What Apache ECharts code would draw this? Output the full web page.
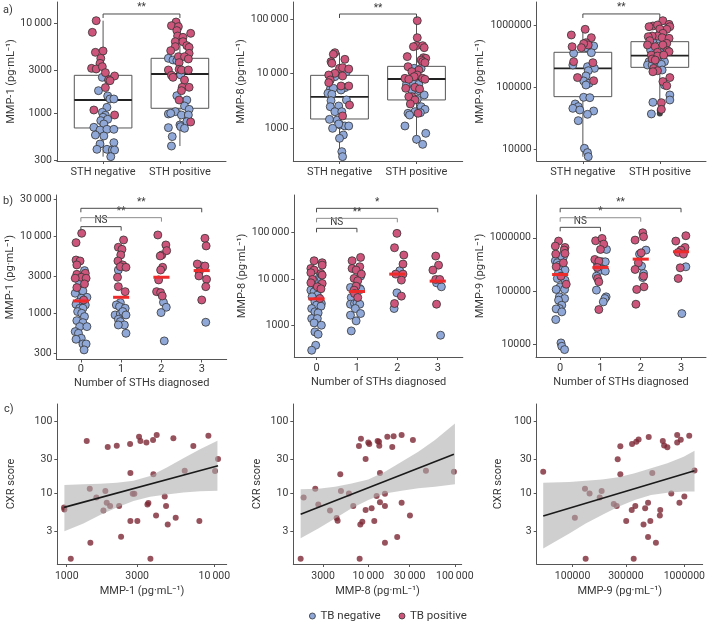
<!DOCTYPE html>
<html><head><meta charset="utf-8">
<script src="https://cdn.jsdelivr.net/npm/echarts@6/dist/echarts.min.js"></script>
<style>html,body{margin:0;padding:0;background:#fff}#c{width:708px;height:623px}</style>
</head><body><div id="c"></div>
<script>
// ---------------- DATA ----------------
// Panel a: MMP concentration (pg/mL) by STH status; pairs are [value, TB status (0 = negative, 1 = positive)]
const sthStatus = ['STH negative', 'STH positive'];
const mmp1SthNeg = [[10700,1],[7940,1],[4760,1],[4930,1],[4085,1],[3590,1],[3160,1],[3110,1],[3300,1],[2830,1],[2600,1],[2510,0],[2345,1],[2305,1],[1785,0],[1930,1],[1560,0],[1443,0],[1443,0],[1088,1],[1166,0],[1026,0],[950,0],[958,1],[903,0],[829,0],[858,0],[761,0],[699,0],[653,0],[664,0],[664,0],[574,0],[560,0],[456,0],[472,0],[398,0],[398,0],[391,0],[391,0],[330,0]];
const mmp1SthPos = [[10340,1],[9420,1],[9180,1],[8300,1],[7740,1],[7230,1],[6990,1],[6250,1],[6250,1],[5650,1],[5410,1],[5510,1],[4640,1],[4970,1],[4260,1],[4085,0],[3920,0],[3850,0],[4260,1],[3660,1],[4020,1],[3030,1],[3085,1],[3030,1],[3030,1],[2670,0],[2645,1],[2510,1],[2345,1],[1945,1],[1945,1],[1785,1],[1570,0],[1406,1],[1406,0],[1206,0],[1107,0],[1044,0],[984,0],[1000,0],[958,0],[958,0],[808,0],[742,0],[801,1],[693,0],[711,0],[681,0],[551,0],[433,0]];
const mmp8SthNeg = [[24100,1],[22500,1],[18200,1],[16500,1],[15400,1],[12440,1],[12800,1],[12100,1],[10810,0],[10080,1],[9380,1],[8750,0],[7600,1],[9000,1],[6790,1],[5900,1],[5900,1],[5500,0],[5120,0],[5350,0],[4330,0],[4980,0],[4150,0],[3270,0],[3180,0],[2460,0],[2640,1],[2530,0],[1990,0],[1990,0],[1440,0],[1660,1],[1400,0],[1135,0],[1088,0],[1088,0],[1185,0],[986,0],[744,0],[646,0],[368,0],[298,0]];
const mmp8SthPos = [[93200,1],[45400,1],[32400,1],[31100,1],[32400,1],[29800,1],[20400,1],[19500,1],[19000,1],[17700,1],[16500,1],[15800,1],[13340,1],[12440,0],[12440,0],[11600,1],[10810,1],[9380,1],[8150,1],[8150,1],[8750,1],[7820,1],[7820,1],[6330,0],[6600,0],[6330,0],[5350,1],[5580,1],[4840,0],[4840,0],[5200,1],[3760,1],[4040,0],[3760,1],[3270,1],[3360,0],[2760,1],[2460,0],[2200,0],[1990,0],[1860,0],[1730,0],[1860,1],[1910,0],[1088,0],[798,0],[620,0],[501,0]];
const mmp9SthNeg = [[873000,1],[706000,1],[456000,1],[639000,1],[530000,1],[486000,1],[468000,0],[511000,1],[440000,0],[440000,1],[356000,0],[365000,0],[261000,1],[230000,0],[251000,1],[216000,0],[203000,0],[186000,0],[144000,1],[153000,0],[127000,0],[128000,1],[116000,0],[109000,0],[68900,0],[68000,0],[53700,0],[48600,0],[45600,0],[42900,0],[41300,0],[36500,0],[28800,0],[10250,0],[8730,0],[7510,0]];
const mmp9SthPos = [[1205000,1],[988000,1],[963000,1],[1025000,1],[1051000,1],[963000,1],[873000,1],[883000,1],[752000,1],[680000,1],[680000,1],[663000,1],[639000,1],[624000,1],[586000,0],[600000,0],[571000,1],[517000,1],[486000,1],[456000,1],[486000,1],[403000,0],[370000,1],[365000,0],[393000,1],[334000,0],[379000,1],[334000,1],[322000,1],[334000,1],[288000,1],[277000,1],[261000,0],[261000,0],[261000,0],[230000,0],[230000,0],[236000,0],[203000,1],[186000,1],[179000,1],[191000,0],[144000,1],[124000,1],[106000,1],[109000,0],[75200,0],[62300,0],[57100,0],[56400,1],[43900,1],[37000,0]];
const mmp9SthPosOutliers = [42500, 37500];
// box statistics [min, Q1, median, Q3, max]
const mmp1Boxes = [[330,687,1406,2643,10700],[433,1137,2735,4085,10340]];
const mmp8Boxes = [[298,1462,3710,9250,24100],[508,3270,7920,13520,93200]];
const mmp9Boxes = [[7510,70600,203000,370000,873000],[57100,211000,326000,550000,1205000]];
const sigA = ['**'];

// Panel b: by number of STHs diagnosed
const sthCounts = ['0', '1', '2', '3'];
const mmp1Sth0 = [[10830,1],[8200,1],[4890,1],[4750,1],[4220,1],[3565,0],[3290,1],[3190,1],[2925,1],[2840,1],[2840,1],[2490,0],[2395,1],[2150,1],[1905,0],[1815,0],[1945,0],[1610,0],[1563,0],[1387,0],[1486,1],[1306,0],[1282,0],[1161,0],[1161,0],[1052,0],[1000,0],[906,0],[803,0],[757,0],[672,0],[672,0],[579,0],[551,0],[475,0],[461,0],[401,0],[401,0],[336,0]];
const mmp1Sth1 = [[8880,1],[7140,1],[6720,1],[5680,1],[4750,1],[4220,1],[4010,1],[3930,1],[3630,0],[2925,1],[2210,1],[1905,1],[1373,0],[1282,0],[1219,0],[1161,0],[951,0],[980,0],[1052,0],[951,0],[836,0],[780,0],[706,0],[706,0],[551,0]];
const mmp1Sth2 = [[10300,1],[7650,1],[5680,1],[5510,1],[6460,1],[3930,1],[3630,1],[2700,1],[1905,1],[1850,1],[1675,1],[1387,0],[1196,0],[1021,0],[439,0]];
const mmp1Sth3 = [[9330,1],[7430,1],[4340,1],[4090,0],[4090,1],[3460,1],[3040,1],[2750,1],[2210,1],[1486,1],[765,0]];
const mmp1Medians = [1443, 1610, 2925, 3565];
const mmp8Sth0 = [[24600,1],[22300,1],[19800,1],[16800,1],[15500,1],[13100,1],[13600,1],[12100,1],[9760,1],[10800,0],[9140,0],[8990,0],[8000,1],[8270,1],[6790,1],[5750,0],[5750,0],[6150,1],[5300,0],[4490,0],[4140,0],[3810,1],[3230,0],[2970,0],[2740,0],[2600,0],[2320,0],[1970,0],[1870,0],[1415,0],[1415,0],[1140,0],[1016,0],[731,0],[651,0],[378,0],[295,0]];
const mmp8Sth1 = [[29000,1],[24600,1],[18300,1],[16800,1],[15500,1],[12700,1],[11500,0],[10250,1],[9140,1],[6570,0],[7010,1],[6250,0],[5750,1],[5950,0],[4880,1],[4000,0],[4000,1],[2870,0],[2970,0],[3070,0],[2870,0],[2320,0],[1810,0],[1670,0],[1260,0],[767,0]];
const mmp8Sth2 = [[95200,1],[46800,1],[32600,1],[20900,1],[15000,0],[12700,1],[12700,1],[9440,1],[5040,0],[4280,1],[2970,1],[2320,0]];
const mmp8Sth3 = [[31000,1],[19800,1],[15500,1],[9760,1],[9760,1],[8270,0],[6790,0],[2870,1],[620,0]];
const mmp8Medians = [3740, 5380, 12700, 8980];
const mmp9Sth0 = [[866000,1],[697000,1],[658000,1],[587000,1],[493000,1],[439000,0],[508000,1],[439000,0],[369000,0],[339000,0],[339000,1],[306000,0],[285000,1],[258000,0],[247000,0],[220000,0],[190000,1],[172000,0],[160000,0],[134000,1],[120000,0],[107000,0],[107000,0],[77700,0],[72300,0],[67300,0],[54200,0],[46900,0],[46200,0],[40600,0],[29100,0],[10600,0],[9160,0],[7940,0]];
const mmp9Sth1 = [[878000,1],[971000,1],[760000,1],[603000,1],[603000,0],[391000,1],[364000,1],[339000,0],[354000,0],[354000,0],[277000,1],[254000,0],[240000,0],[236000,0],[190000,0],[172000,1],[149000,1],[104000,0],[77700,0],[72300,0],[62500,0],[44900,1]];
const mmp9Sth2 = [[1242000,1],[904000,1],[1044000,1],[493000,0],[587000,0],[522000,1],[339000,1],[293000,0],[254000,1],[213000,0],[179000,0],[190000,1],[120000,1],[107000,1],[56500,1]];
const mmp9Sth3 = [[1091000,1],[866000,1],[658000,1],[587000,1],[530000,1],[493000,1],[273000,1],[285000,0],[172000,1],[37700,0]];
const mmp9Medians = [204000, 277000, 397000, 546000];
const sigB1 = ['NS', '**', '**'];
const sigB2 = ['NS', '**', '*'];
const sigB3 = ['NS', '*', '**'];

// Panel c: CXR score vs MMP (TB positive)
const cxrMmp1 = [[959,6.46],[964,6.05],[1065,1.25],[1366,53.8],[1432,11.7],[1446,2.08],[1588,8.89],[1772,5.87],[1827,10.9],[1866,7.5],[1896,44.5],[1967,6.74],[2183,46.4],[2264,6.74],[2335,2.53],[2687,49.0],[2700,19.4],[2700,4.17],[2800,10],[2872,10],[3010,4.17],[3090,61.9],[3157,53.8],[3467,51.6],[3523,7.11],[3575,7.41],[3690,1.25],[3846,55.6],[3866,18.6],[4030,5.0],[4070,65.3],[4613,9.18],[4710,6.74],[4834,3.75],[5280,58.7],[5476,4.64],[6300,20.8],[7210,45.9],[7920,4.17],[9120,63.9],[10120,20.6],[10600,30.3]];
const cxrMmp8 = [[1652,1.25],[1788,8.89],[2438,11.7],[2642,7.11],[3606,5.87],[4306,4.59],[4419,4.22],[4744,18.6],[4828,10.9],[5975,10.1],[6706,6.74],[7800,45.9],[8225,58.1],[8090,3.75],[8536,4.08],[7943,1.25],[9310,30.3],[9310,5.92],[10000,51.6],[10270,49.0],[10930,6.26],[11730,4.17],[12480,9.3],[12820,53.8],[13300,52.6],[13400,46.4],[13640,19.4],[13640,7.59],[15580,10],[15580,6.74],[15580,2.08],[16600,61.9],[18940,44.5],[19620,63],[21600,2.5],[24290,65.3],[24290,7.5],[30320,5.0],[32800,55.6],[46400,20.8],[97700,20.2]];
const cxrMmp9 = [[54600,20.2],[104800,4.64],[129100,11.7],[130900,1.25],[141900,10.1],[174900,8.89],[182000,10.9],[233500,7.19],[248200,6.74],[253300,30.0],[267400,45.5],[267400,18.6],[301900,4.17],[338300,5.92],[340500,49.0],[352300,1.25],[364100,6.74],[371600,52.6],[389700,56.8],[431300,3.75],[446000,6.3],[473400,2.5],[473400,7.5],[480000,61.1],[496300,4.17],[516600,19.4],[556700,2.08],[603700,5.0],[608500,5.92],[641600,53.8],[659200,46.8],[704800,44.1],[763900,10.1],[862900,65.3],[862900,51.6],[903600,7.5],[929000,56.3],[1000000,9.18],[1106000,63.9],[1233000,21.0]];
// fitted regression line end points and 95% confidence band
const fitMmp1 = [[959,6.46],[10600,24.4]];
const fitMmp8 = [[1652,5.18],[97700,35.3]];
const fitMmp9 = [[54600,4.9],[1233000,20.8]];
const bandMmp1X = [964,1297,1682,2183,2831,3673,4764,6170,8000,10500];
const bandMmp1Upper = [13.2,13.5,13.8,14.2,15.2,17.6,23.2,31.0,41.3,54.5];
const bandMmp1Lower = [3.0,3.87,5.06,6.46,7.91,9.09,9.79,10.4,10.8,11.0];
const bandMmp8X = [1652,2642,4121,6415,10000,15590,24290,37850,59000,100400];
const bandMmp8Upper = [11.5,11.7,12.5,13.9,15.8,20.2,27.8,38.3,55.6,94.8];
const bandMmp8Lower = [2.4,3.3,4.54,6.26,8.16,10.1,11.0,11.9,12.5,13.5];
const bandMmp9X = [54600,93500,131000,183300,256600,359500,503500,704800,986600,1233000];
const bandMmp9Upper = [14.2,14.5,15.2,15.8,16.9,19.2,22.5,26.4,32.6,39.6];
const bandMmp9Lower = [1.74,2.81,3.87,5.06,6.59,8.16,9.58,10.3,10.7,10.7];

// tick values
const ticksMmp1A = [300,1000,3000,10000];
const ticksMmp1B = [300,1000,3000,10000,30000];
const ticksMmp8 = [1000,10000,100000];
const ticksMmp9 = [10000,100000,1000000];
const ticksCxr = [3,10,30,100];
const ticksMmp1C = [1000,3000,10000];
const ticksMmp8C = [3000,10000,30000,100000];
const ticksMmp9C = [100000,300000,1000000];

// ---------------- LAYOUT (jitter offsets, bracket heights) ----------------
const jitA = {
  mmp1: [[-0.09,-0.14,-0.10,0.00,-0.03,-0.04,-0.15,-0.09,-0.01,0.03,0.15,-0.01,0.07,0.09,-0.06,0.03,0.06,0.09,0.14,-0.12,0.05,-0.01,0.03,0.15,0.00,-0.03,0.06,0.01,-0.12,-0.04,0.05,0.14,-0.10,0.01,-0.04,0.14,-0.08,0.05,0.12,0.15,0.10],
         [-0.05,-0.11,-0.02,-0.04,0.14,-0.03,0.04,-0.06,0.04,0.09,0.12,-0.06,0.12,-0.12,-0.02,-0.15,-0.09,-0.04,0.06,-0.01,0.11,-0.15,-0.01,0.02,0.11,0.01,-0.11,-0.09,0.06,0.03,0.12,0.02,-0.04,-0.01,0.09,0.06,0.12,-0.06,-0.15,-0.12,0.02,0.11,0.09,0.00,0.14,-0.15,0.01,0.06,-0.10,-0.11]],
  mmp8: [[-0.06,-0.08,0.07,-0.11,-0.10,0.00,0.04,0.12,0.09,-0.06,-0.14,-0.06,-0.12,0.04,-0.14,0.02,0.12,0.07,-0.12,-0.08,-0.15,0.02,-0.10,0.09,-0.11,-0.12,0.13,-0.01,-0.06,0.03,-0.13,0.04,-0.03,0.01,0.07,0.12,-0.01,-0.09,0.05,0.00,0.03,0.04],
         [0.01,0.01,0.00,-0.04,0.08,0.10,-0.12,0.09,0.12,0.06,0.08,0.11,-0.11,-0.03,0.06,0.03,-0.06,0.01,0.08,-0.15,-0.03,-0.10,0.11,-0.13,-0.04,0.03,-0.14,-0.02,-0.06,0.03,0.04,-0.06,0.10,-0.10,-0.02,0.01,-0.08,0.06,0.11,-0.02,-0.11,-0.09,0.02,0.05,-0.15,0.12,0.00,0.08]],
  mmp9: [[0.03,-0.15,-0.14,0.11,0.04,0.07,0.14,0.01,0.04,-0.02,-0.12,0.11,-0.12,-0.13,0.13,0.06,0.15,0.07,-0.07,0.04,0.01,0.14,0.08,0.04,0.01,0.09,-0.10,-0.06,-0.13,-0.04,0.14,0.06,-0.06,0.02,0.06,0.07],
         [0.04,-0.09,-0.14,-0.03,0.12,0.13,0.09,0.00,0.04,-0.03,-0.10,-0.15,0.03,0.12,-0.09,0.00,-0.13,0.09,-0.16,-0.06,0.04,-0.12,-0.03,0.01,0.10,0.03,0.12,-0.11,-0.03,0.05,-0.10,-0.06,0.00,0.06,-0.14,-0.16,-0.10,0.02,-0.08,-0.03,-0.09,0.03,0.13,0.04,0.09,0.06,0.13,0.13,-0.09,0.02,0.02,-0.11]]
};
const jitB = {
  mmp1: [[0.02,-0.12,-0.12,-0.02,-0.10,0.09,0.11,-0.10,0.01,0.13,-0.14,-0.03,0.09,-0.10,-0.02,-0.14,0.05,0.15,0.01,-0.06,0.07,-0.12,0.11,-0.03,0.05,-0.08,0.02,0.09,-0.10,0.05,-0.03,0.15,-0.14,-0.06,0.01,-0.12,0.05,0.13,0.08],
         [0.06,-0.07,0.02,-0.01,-0.08,0.04,-0.02,0.12,-0.07,-0.09,-0.07,0.10,-0.02,-0.12,-0.04,0.10,-0.15,-0.02,0.04,0.12,-0.07,-0.02,0.08,-0.07,0.12],
         [-0.09,0.11,0.01,-0.03,0.13,0.03,-0.02,-0.07,-0.12,-0.02,0.02,0.05,0.12,-0.01,0.07],
         [0.08,0.11,-0.11,0.00,0.08,-0.06,-0.07,0.12,0.10,0.00,0.10]],
  mmp8: [[-0.06,0.14,0.14,-0.14,-0.06,0.11,-0.14,0.14,-0.10,0.07,0.02,-0.06,0.14,-0.14,0.02,-0.14,-0.02,0.11,-0.06,0.02,-0.11,0.08,-0.04,0.12,0.00,0.11,-0.12,-0.04,0.04,-0.12,0.02,-0.06,0.12,-0.04,0.04,-0.02,-0.12],
         [0.09,-0.12,0.07,-0.12,-0.02,0.11,0.09,-0.07,0.02,-0.16,-0.02,0.07,-0.07,0.09,-0.06,-0.14,0.02,-0.16,-0.06,0.00,0.07,-0.04,0.09,-0.16,-0.02,-0.14],
         [-0.01,-0.07,0.16,0.14,0.06,-0.04,0.14,0.10,-0.01,0.10,-0.07,-0.08],
         [-0.05,0.02,-0.12,-0.05,0.05,-0.03,0.09,-0.03,0.07]],
  mmp9: [[-0.04,-0.12,0.12,0.10,-0.11,0.08,0.12,0.00,-0.12,-0.07,0.08,-0.02,-0.10,0.07,0.12,-0.04,0.02,-0.07,0.12,0.15,0.00,-0.10,0.11,-0.02,0.11,-0.04,0.04,-0.02,-0.10,0.04,-0.11,0.02,0.04,0.11],
         [-0.12,0.04,0.08,0.00,0.15,-0.14,-0.04,-0.08,0.04,0.12,-0.08,0.07,-0.04,0.12,-0.10,-0.07,-0.04,-0.10,0.14,0.11,0.07,-0.04],
         [0.05,-0.14,0.07,-0.03,0.13,0.01,-0.06,0.02,-0.14,0.07,0.05,0.07,0.08,-0.10,-0.12],
         [0.12,-0.13,0.10,0.00,-0.07,0.06,-0.02,0.12,-0.07,0.02]]
};
const bracketPairsB = [[0,1],[0,2],[0,3]];
const bracketYA = [12700, 123500, 1550000];
const bracketYB1 = [13200, 17250, 22800];
const bracketYB2 = [122000, 200000, 328000];
const bracketYB3 = [1570000, 2377000, 3573000];

// ---------------- STYLE ----------------
const L = Math.log10;
const FONT = 'Roboto, "Noto Sans", sans-serif';
const AXC = '#555555', TXT = '#383838';
const PINK = '#cd557b', BLUE = '#8fa8d8', EDGE = '#333333', MAROON = '#7d2834';
const BR_DARK = '#4a4a4a', BR_LIGHT = '#8c8c8c';

function fmtNum(n, sep) {
  const s = String(n);
  if (!sep || n < 10000) return s;
  return s.replace(/\B(?=(\d{3})+(?!\d))/g, '\u2009');
}

const grids = [], xAxes = [], yAxes = [], series = [];

function logAxis(gi, dir, min, max, ticks, sep, name, gap, margin) {
  const cv = ticks.map(L);
  const ax = {
    type: 'value', gridIndex: gi, min: min, max: max,
    axisLine: { show: true, onZero: false, lineStyle: { color: AXC, width: 1 } },
    axisTick: { show: true, length: 3, customValues: cv, lineStyle: { color: AXC } },
    axisLabel: { show: true, customValues: cv, margin: margin, color: TXT, fontSize: 10.5, fontFamily: FONT,
      formatter: v => fmtNum(Math.round(Math.pow(10, v)), sep) },
    splitLine: { show: false }
  };
  if (name) {
    ax.name = name; ax.nameLocation = 'middle'; ax.nameGap = gap;
    if (dir === 'y') ax.nameRotate = 90;
    ax.nameTextStyle = { color: TXT, fontSize: 11, fontFamily: FONT };
  }
  return ax;
}
function catAxis(gi, min, max, labels, margin, name, gap) {
  const cv = labels.map((_, i) => i);
  const ax = {
    type: 'value', gridIndex: gi, min: min, max: max,
    axisLine: { show: true, onZero: false, lineStyle: { color: AXC, width: 1 } },
    axisTick: { show: true, length: 3, customValues: cv, lineStyle: { color: AXC } },
    axisLabel: { show: true, customValues: cv, margin: margin, color: TXT, fontSize: 11, fontFamily: FONT,
      formatter: v => labels[Math.round(v)] },
    splitLine: { show: false }
  };
  if (name) {
    ax.name = name; ax.nameLocation = 'middle'; ax.nameGap = gap;
    ax.nameTextStyle = { color: TXT, fontSize: 11, fontFamily: FONT };
  }
  return ax;
}

function jitterSeries(gi, groups, jit) {
  const neg = [], pos = [];
  groups.forEach((g, ci) => g.forEach((d, k) => {
    const pt = [ci + ((jit[ci] && jit[ci][k]) || 0), L(d[0])];
    (d[1] ? pos : neg).push(pt);
  }));
  const st = c => ({ color: c, borderColor: EDGE, borderWidth: 0.8, opacity: 1 });
  return [
    { type: 'scatter', name: 'TB negative', xAxisIndex: gi, yAxisIndex: gi, data: neg, symbolSize: 8, z: 3, itemStyle: st(BLUE), silent: true },
    { type: 'scatter', name: 'TB positive', xAxisIndex: gi, yAxisIndex: gi, data: pos, symbolSize: 8, z: 3, itemStyle: st(PINK), silent: true }
  ];
}

function boxSeries(gi, boxes) {
  return {
    type: 'custom', xAxisIndex: gi, yAxisIndex: gi, z: 2, silent: true,
    data: boxes.map((b, i) => [i].concat(b.map(L))),
    encode: { x: 0, y: [1, 2, 3, 4, 5] },
    renderItem: (params, api) => {
      const x = api.value(0);
      const c = k => api.coord([x, api.value(k)]);
      const pMin = c(1), pQ1 = c(2), pMed = c(3), pQ3 = c(4), pMax = c(5);
      const hw = api.size([0.375, 0])[0];
      const cx = pMin[0];
      return { type: 'group', children: [
        { type: 'line', shape: { x1: cx, y1: pMin[1], x2: cx, y2: pQ1[1] }, style: { stroke: AXC, lineWidth: 1 } },
        { type: 'line', shape: { x1: cx, y1: pQ3[1], x2: cx, y2: pMax[1] }, style: { stroke: AXC, lineWidth: 1 } },
        { type: 'rect', shape: { x: cx - hw, y: pQ3[1], width: 2 * hw, height: pQ1[1] - pQ3[1] }, style: { fill: '#fff', stroke: AXC, lineWidth: 1 } },
        { type: 'line', shape: { x1: cx - hw, y1: pMed[1], x2: cx + hw, y2: pMed[1] }, style: { stroke: '#222', lineWidth: 1.8 } }
      ] };
    }
  };
}

function outlierSeries(gi, ci, vals) {
  return { type: 'scatter', xAxisIndex: gi, yAxisIndex: gi, z: 2, silent: true, symbolSize: 6,
    data: vals.map(v => [ci, L(v)]), itemStyle: { color: '#111' } };
}

function bracketSeries(gi, pairs, heights, labels, colors) {
  return {
    type: 'custom', xAxisIndex: gi, yAxisIndex: gi, z: 5, silent: true,
    data: pairs.map((p, i) => [p[0], p[1], L(heights[i])]),
    encode: { x: [0, 1], y: 2 },
    renderItem: (params, api) => {
      const a = api.coord([api.value(0), api.value(2)]);
      const b = api.coord([api.value(1), api.value(2)]);
      const col = colors[params.dataIndex];
      return { type: 'group', children: [
        { type: 'polyline', shape: { points: [[a[0], a[1] + 4], [a[0], a[1]], [b[0], b[1]], [b[0], b[1] + 4]] }, style: { stroke: col, lineWidth: 1, fill: null } },
        { type: 'text', x: (a[0] + b[0]) / 2, y: a[1] - 1, style: { text: labels[params.dataIndex], fill: TXT, font: '10px ' + FONT, align: 'center', verticalAlign: 'bottom' } }
      ] };
    }
  };
}

function medianSeries(gi, medians) {
  return {
    type: 'custom', xAxisIndex: gi, yAxisIndex: gi, z: 4, silent: true,
    data: medians.map((m, i) => [i, L(m)]), encode: { x: 0, y: 1 },
    renderItem: (params, api) => {
      const p = api.coord([api.value(0), api.value(1)]);
      const hw = api.size([0.2, 0])[0];
      return { type: 'line', shape: { x1: p[0] - hw, y1: p[1], x2: p[0] + hw, y2: p[1] }, style: { stroke: '#ee2b2b', lineWidth: 3 } };
    }
  };
}

function bandSeries(gi, xs, up, lo) {
  const data = xs.map((x, i) => [L(x), L(up[i]), L(lo[i])]);
  return {
    type: 'custom', xAxisIndex: gi, yAxisIndex: gi, z: 3, silent: true, data: data,
    encode: { x: 0, y: [1, 2] },
    renderItem: (params, api) => {
      if (params.dataIndex !== 0) return null;
      const pts = data.map(d => api.coord([d[0], d[1]]))
        .concat(data.slice().reverse().map(d => api.coord([d[0], d[2]])));
      return { type: 'polygon', shape: { points: pts }, style: { fill: 'rgba(172,172,172,0.58)' } };
    }
  };
}

// ---------- Panel a ----------
const aPanels = [
  { left: 57, width: 169, ymin: 2.470, ymax: 4.237, ticks: ticksMmp1A, sep: true, name: 'MMP-1 (pg·mL⁻¹)', gap: 40,
    groups: [mmp1SthNeg, mmp1SthPos], jit: jitA.mmp1, boxes: mmp1Boxes, by: bracketYA[0] },
  { left: 293.3, width: 169.4, ymin: 2.394, ymax: 5.312, ticks: ticksMmp8, sep: true, name: 'MMP-8 (pg·mL⁻¹)', gap: 44,
    groups: [mmp8SthNeg, mmp8SthPos], jit: jitA.mmp8, boxes: mmp8Boxes, by: bracketYA[1] },
  { left: 536.7, width: 169.3, ymin: 3.805, ymax: 6.384, ticks: ticksMmp9, sep: false, name: 'MMP-9 (pg·mL⁻¹)', gap: 51,
    groups: [mmp9SthNeg, mmp9SthPos], jit: jitA.mmp9, boxes: mmp9Boxes, by: bracketYA[2], outliers: mmp9SthPosOutliers }
];
aPanels.forEach(p => {
  const gi = grids.length;
  grids.push({ left: p.left, top: 2, width: p.width, height: 159, containLabel: false });
  xAxes.push(catAxis(gi, -0.6, 1.6, sthStatus, 6));
  yAxes.push(logAxis(gi, 'y', p.ymin, p.ymax, p.ticks, p.sep, p.name, p.gap, 5));
  series.push(boxSeries(gi, p.boxes));
  if (p.outliers) series.push(outlierSeries(gi, 1, p.outliers));
  jitterSeries(gi, p.groups, p.jit).forEach(s => series.push(s));
  series.push(bracketSeries(gi, [[0, 1]], [p.by], sigA, [BR_DARK]));
});

// ---------- Panel b ----------
const bPanels = [
  { left: 56.7, width: 170, height: 164.5, ymin: 2.402, ymax: 4.530, ticks: ticksMmp1B, sep: true, name: 'MMP-1 (pg·mL⁻¹)', gap: 40,
    groups: [mmp1Sth0, mmp1Sth1, mmp1Sth2, mmp1Sth3], jit: jitB.mmp1, med: mmp1Medians, sig: sigB1, by: bracketYB1, xmin: -0.6, lm: 4, ng: 18 },
  { left: 294.3, width: 168.5, height: 162, ymin: 2.325, ymax: 5.802, ticks: ticksMmp8, sep: true, name: 'MMP-8 (pg·mL⁻¹)', gap: 44,
    groups: [mmp8Sth0, mmp8Sth1, mmp8Sth2, mmp8Sth3], jit: jitB.mmp8, med: mmp8Medians, sig: sigB2, by: bracketYB2, xmin: -0.55, lm: 6, ng: 20 },
  { left: 536, width: 170, height: 162, ymin: 3.761, ymax: 6.803, ticks: ticksMmp9, sep: false, name: 'MMP-9 (pg·mL⁻¹)', gap: 49,
    groups: [mmp9Sth0, mmp9Sth1, mmp9Sth2, mmp9Sth3], jit: jitB.mmp9, med: mmp9Medians, sig: sigB3, by: bracketYB3, xmin: -0.6, lm: 6, ng: 20 }
];
bPanels.forEach(p => {
  const gi = grids.length;
  grids.push({ left: p.left, top: 195, width: p.width, height: p.height, containLabel: false });
  xAxes.push(catAxis(gi, p.xmin, 3.62, sthCounts, p.lm, 'Number of STHs diagnosed', p.ng));
  yAxes.push(logAxis(gi, 'y', p.ymin, p.ymax, p.ticks, p.sep, p.name, p.gap, 5));
  jitterSeries(gi, p.groups, p.jit).forEach(s => series.push(s));
  series.push(medianSeries(gi, p.med));
  series.push(bracketSeries(gi, bracketPairsB, p.by, p.sig, [BR_DARK, BR_LIGHT, BR_DARK]));
});

// ---------- Panel c ----------
const cPanels = [
  { left: 57.3, width: 169.4, xmin: 2.936, xmax: 4.084, xticks: ticksMmp1C, sep: true, xname: 'MMP-1 (pg·mL⁻¹)', gap: 41,
    pts: cxrMmp1, fit: fitMmp1, bx: bandMmp1X, bu: bandMmp1Upper, bl: bandMmp1Lower },
  { left: 293.3, width: 168.4, xmin: 3.133, xmax: 5.080, xticks: ticksMmp8C, sep: true, xname: 'MMP-8 (pg·mL⁻¹)', gap: 31,
    pts: cxrMmp8, fit: fitMmp8, bx: bandMmp8X, bu: bandMmp8Upper, bl: bandMmp8Lower },
  { left: 536.7, width: 169.3, xmin: 4.679, xmax: 6.164, xticks: ticksMmp9C, sep: false, xname: 'MMP-9 (pg·mL⁻¹)', gap: 33,
    pts: cxrMmp9, fit: fitMmp9, bx: bandMmp9X, bu: bandMmp9Upper, bl: bandMmp9Lower }
];
cPanels.forEach(p => {
  const gi = grids.length;
  grids.push({ left: p.left, top: 404, width: p.width, height: 160, containLabel: false });
  xAxes.push(logAxis(gi, 'x', p.xmin, p.xmax, p.xticks, p.sep, p.xname, 22, 7));
  yAxes.push(logAxis(gi, 'y', 0.024, 2.246, ticksCxr, false, 'CXR score', p.gap, 5));
  series.push({ type: 'scatter', xAxisIndex: gi, yAxisIndex: gi, z: 2, silent: true, symbolSize: 6,
    data: p.pts.map(d => [L(d[0]), L(d[1])]), itemStyle: { color: MAROON } });
  series.push(bandSeries(gi, p.bx, p.bu, p.bl));
  series.push({ type: 'line', xAxisIndex: gi, yAxisIndex: gi, z: 4, silent: true, symbol: 'none',
    data: p.fit.map(d => [L(d[0]), L(d[1])]), lineStyle: { color: '#1a1a1a', width: 1.6 } });
});

const chart = echarts.init(document.getElementById('c'), null, { renderer: 'canvas' });
chart.setOption({
  animation: false,
  backgroundColor: '#ffffff',
  textStyle: { fontFamily: FONT },
  grid: grids, xAxis: xAxes, yAxis: yAxes, series: series,
  legend: { data: ['TB negative', 'TB positive'], left: 304, top: 605, icon: 'circle', itemWidth: 6, itemHeight: 6,
    itemGap: 18, itemStyle: { borderWidth: 0.8, borderColor: EDGE },
    textStyle: { color: TXT, fontSize: 11.5, fontFamily: FONT }, selectedMode: false },
  graphic: [
    { type: 'text', left: 3, top: 5, style: { text: 'a)', fill: TXT, font: '11px ' + FONT } },
    { type: 'text', left: 3, top: 196, style: { text: 'b)', fill: TXT, font: '11px ' + FONT } },
    { type: 'text', left: 4, top: 404, style: { text: 'c)', fill: TXT, font: '11px ' + FONT } }
  ]
});
</script></body></html>
